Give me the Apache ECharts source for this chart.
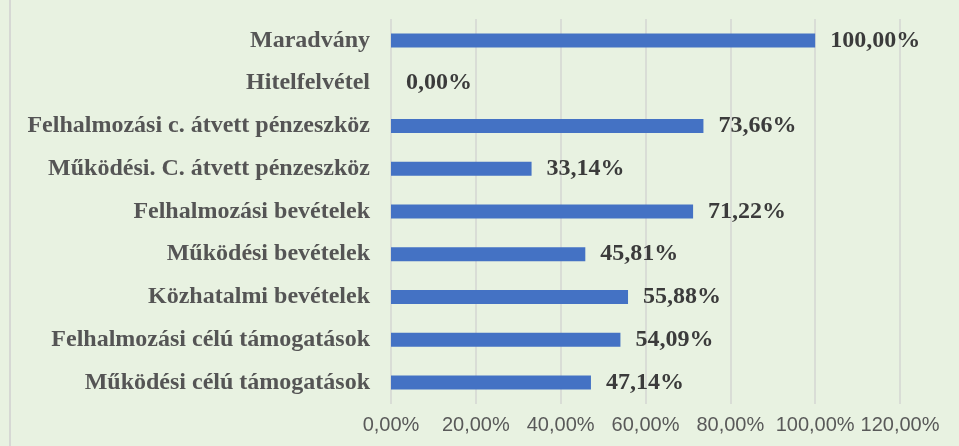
<!DOCTYPE html>
<html>
<head>
<meta charset="utf-8">
<script src="https://cdn.jsdelivr.net/npm/echarts@6/dist/echarts.min.js"></script>
<style>
  html, body { margin: 0; padding: 0; }
  #chart { width: 959px; height: 446px; }
</style>
</head>
<body>
<div id="chart"></div>
<script>
// categories listed bottom -> top
const categories = [
	'Működési célú támogatások',
	'Felhalmozási célú támogatások',
	'Közhatalmi bevételek',
	'Működési bevételek',
	'Felhalmozási bevételek',
	'Működési. C. átvett pénzeszköz',
	'Felhalmozási c. átvett pénzeszköz',
	'Hitelfelvétel',
	'Maradvány'
];
const values = [47.14, 54.09, 55.88, 45.81, 71.22, 33.14, 73.66, 0, 100];
const axisMax = 120;
const axisStep = 20;

const pct = (v) => v.toFixed(2).replace('.', ',') + '%';

const myChart = echarts.init(document.getElementById('chart'));

const option = {
	backgroundColor: '#e8f2e1',
	animation: false,
	graphic: [{
		type: 'rect',
		shape: { x: 9, y: 0, width: 2, height: 446 },
		style: { fill: '#d6d8d4' }
	}],
	grid: {
		left: 391,
		right: 59,
		top: 19,
		bottom: 42
	},
	xAxis: {
		type: 'value',
		min: 0,
		max: axisMax,
		interval: axisStep,
		axisLine: { show: false },
		axisTick: { show: false },
		splitLine: { lineStyle: { color: '#d4d6d2', width: 1.5 } },
		axisLabel: {
			margin: 11,
			fontFamily: 'Liberation Sans',
			fontSize: 20,
			color: '#595959',
			formatter: (v) => pct(v)
		}
	},
	yAxis: {
		type: 'category',
		data: categories,
		axisLine: { show: false },
		axisTick: { show: false },
		axisLabel: {
			margin: 21,
			fontFamily: 'Liberation Serif',
			fontWeight: 'bold',
			fontSize: 24,
			color: '#555555'
		}
	},
	series: [{
		type: 'bar',
		data: values,
		barWidth: 14,
		itemStyle: { color: '#4472c4' },
		label: {
			show: true,
			position: 'right',
			distance: 15,
			fontFamily: 'Liberation Serif',
			fontWeight: 'bold',
			fontSize: 24,
			color: '#3b3b3b',
			formatter: (p) => pct(p.value)
		}
	}]
};

myChart.setOption(option);
</script>
</body>
</html>
